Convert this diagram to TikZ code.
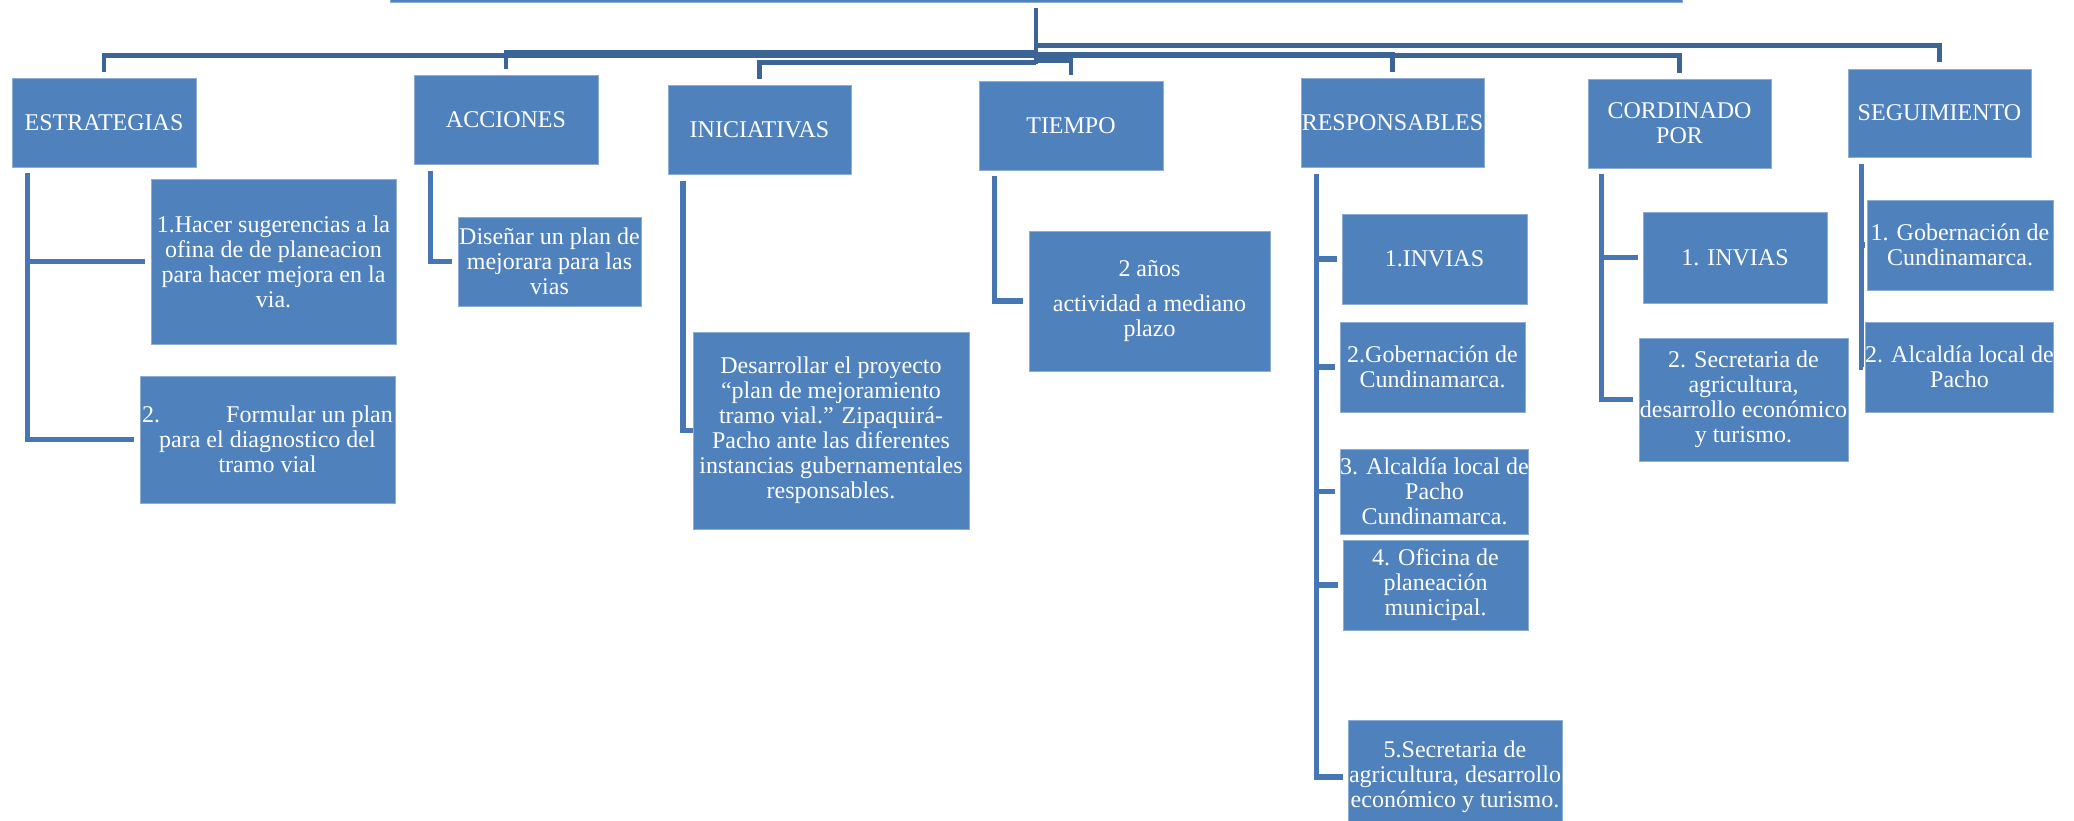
\documentclass[tikz,border=0pt]{standalone}
\usepackage{fontspec}
\setmainfont{Liberation Serif}
\definecolor{boxblue}{HTML}{4F81BD}
\definecolor{linkblue}{HTML}{3C6497}
\definecolor{branchblue}{HTML}{4677B4}
\tikzset{
  box/.style={fill=boxblue,draw=boxblue!65!white,line width=0.5pt,text=white,align=center,inner sep=0pt,font=\fontsize{12}{12.5}\selectfont},
  dims/.style 2 args={minimum width=#1*0.5pt,minimum height=#2*0.5pt},
  toplink/.style={draw=linkblue,line width=2.2pt},
  sublink/.style={draw=branchblue,line width=2.7pt}
}
\begin{document}
\begin{tikzpicture}[x=0.5pt,y=-0.5pt]
\useasboundingbox (0,0) rectangle (2074,820);
\clip (0,0) rectangle (2074,820);
\node[box,dims={1292}{62}] (root) at (1036,-29) {};
\coordinate (hub) at ([yshift=-30.5pt]root.south);
\node[box,dims={184}{89}] (estr) at (104,122.5) {ESTRATEGIAS};
\node[box,dims={184}{89}] (acc) at (506,119.5) {ACCIONES};
\node[box,dims={183}{89}] (inic) at (759.5,129.5) {INICIATIVAS};
\node[box,dims={184}{89}] (tiem) at (1071,125.5) {TIEMPO};
\node[box,dims={183}{89}] (resp) at (1392.5,122.5) {RESPONSABLES};
\node[box,dims={183}{89}] (cord) at (1679.5,123.5) {CORDINADO\\POR};
\node[box,dims={183}{88}] (segu) at (1939.5,113) {SEGUIMIENTO};
\draw[toplink] ([yshift=-2.5pt]root.south) -- (hub);
\draw[toplink] ([yshift=4pt]hub) -| ([yshift=3pt]estr.north);
\draw[toplink] ([yshift=5.5pt]hub) -| ([yshift=3pt]acc.north);
\draw[toplink] ([yshift=0.5pt]hub) -| ([yshift=3pt]inic.north);
\draw[toplink] ([yshift=1.5pt]hub) -| ([yshift=3pt]tiem.north);
\draw[toplink] ([yshift=4.5pt]hub) -| ([yshift=3pt]resp.north);
\draw[toplink] ([yshift=4pt]hub) -| ([yshift=3pt]cord.north);
\draw[toplink] ([yshift=9pt]hub) -| ([yshift=3.5pt]segu.north);
\node[box,dims={245}{165}] (e1) at (273.5,261.5) {1.Hacer sugerencias a la\\ofina de de planeacion\\para hacer mejora en la\\via.};
\node[box,dims={255}{127}] (e2) at (267.5,439.5) {2.\hspace{33pt}Formular un plan\\para el diagnostico del\\tramo vial};
\node[box,dims={183}{89}] (a1) at (549.5,261.5) {Diseñar un plan de\\mejorara para las\\vias};
\node[box,dims={276}{197}] (i1) at (831,430.5) {Desarrollar el proyecto\\“plan de mejoramiento\\tramo vial.” Zipaquirá-\\Pacho ante las diferentes\\instancias gubernamentales\\responsables.};
\node[box,dims={241}{140}] (t1) at (1149.5,301) {2 años\\[5pt]actividad a mediano\\plazo};
\node[box,dims={185}{90}] (r1) at (1434.5,259) {1.INVIAS};
\node[box,dims={185}{90}] (r2) at (1432.5,367) {2.Gobernación de\\Cundinamarca.};
\node[box,dims={185}{85}] (r3) at (1434.5,491.5) {3. Alcaldía local de\\Pacho\\Cundinamarca.};
\node[box,dims={185}{90}] (r4) at (1435.5,585) {4. Oficina de\\planeación\\municipal.};
\node[box,dims={214}{114}] (r5) at (1455,777) {5.Secretaria de\\agricultura, desarrollo\\económico y turismo.};
\node[box,dims={184}{91}] (c1) at (1735,257.5) {1. INVIAS};
\node[box,dims={209}{123}] (c2) at (1743.5,399.5) {2. Secretaria de\\agricultura,\\desarrollo económico\\y turismo.};
\node[box,dims={186}{90}] (s1) at (1960,245) {1. Gobernación de\\Cundinamarca.};
\node[box,dims={185}{90}] (s2) at (1959.5,367) {2. Alcaldía local de\\Pacho};
\coordinate (estrbar) at ([xshift=8pt,yshift=-2.5pt]estr.south west);
\draw[sublink] (estrbar) |- ([xshift=-3pt]e2.west);
\draw[sublink] (estrbar |- e1.west) -- ([xshift=-3pt]e1.west);
\coordinate (accbar) at ([xshift=8.5pt,yshift=-3pt]acc.south west);
\draw[sublink] (accbar) |- ([xshift=-3pt]a1.west);
\coordinate (inicbar) at ([xshift=7.75pt,yshift=-3pt]inic.south west);
\draw[sublink] (inicbar) |- (i1.west);
\coordinate (tiembar) at ([xshift=8pt,yshift=-2.5pt]tiem.south west);
\draw[sublink] (tiembar) |- ([xshift=-3pt]t1.west);
\coordinate (respbar) at ([xshift=8pt,yshift=-3pt]resp.south west);
\draw[sublink] (respbar) |- ([xshift=-2.5pt]r5.west);
\draw[sublink] (respbar |- r1.west) -- ([xshift=-2.5pt]r1.west);
\draw[sublink] (respbar |- r2.west) -- ([xshift=-2.5pt]r2.west);
\draw[sublink] (respbar |- r3.west) -- ([xshift=-2.5pt]r3.west);
\draw[sublink] (respbar |- r4.west) -- ([xshift=-2.5pt]r4.west);
\coordinate (cordbar) at ([xshift=7pt,yshift=-2.5pt]cord.south west);
\draw[sublink] (cordbar) |- ([xshift=-3pt]c2.west);
\draw[sublink] (cordbar |- c1.west) -- ([xshift=-2.5pt]c1.west);
\coordinate (segubar) at ([xshift=7pt,yshift=-3pt]segu.south west);
\draw[sublink] (segubar) |- ([xshift=-1pt]s2.west);
\draw[sublink] (segubar |- s1.west) -- ([xshift=-1pt]s1.west);
\end{tikzpicture}
\end{document}
